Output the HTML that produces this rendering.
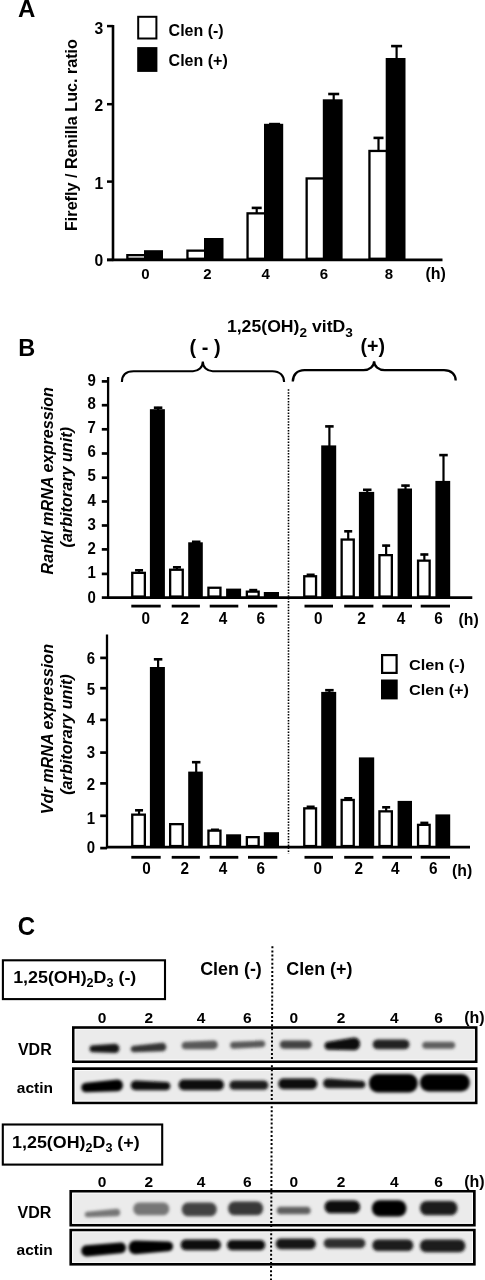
<!DOCTYPE html>
<html><head><meta charset="utf-8"><style>
html,body{margin:0;padding:0;background:#fff;}
body{width:485px;height:1280px;overflow:hidden;}
svg{display:block;font-family:"Liberation Sans", sans-serif;filter:grayscale(1);}
</style></head><body>
<svg width="485" height="1280" viewBox="0 0 485 1280">
<defs><filter id="bl" x="-20%" y="-100%" width="140%" height="300%"><feGaussianBlur stdDeviation="1.5"/></filter></defs>
<text transform="translate(17.90,17.10)" font-size="24" text-anchor="start" font-weight="bold" font-style="normal">A</text>
<line x1="113.00" y1="25.00" x2="113.00" y2="261.10" stroke="#000" stroke-width="2.6" />
<line x1="107.00" y1="259.90" x2="442.50" y2="259.90" stroke="#000" stroke-width="2.6" />
<line x1="107.00" y1="259.90" x2="113.00" y2="259.90" stroke="#000" stroke-width="2.5" />
<text transform="translate(103.20,266.00) scale(0.95,1)" font-size="16.5" text-anchor="end" font-weight="bold" font-style="normal">0</text>
<line x1="107.00" y1="181.60" x2="113.00" y2="181.60" stroke="#000" stroke-width="2.5" />
<text transform="translate(103.20,189.40) scale(0.95,1)" font-size="16.5" text-anchor="end" font-weight="bold" font-style="normal">1</text>
<line x1="107.00" y1="104.20" x2="113.00" y2="104.20" stroke="#000" stroke-width="2.5" />
<text transform="translate(103.20,110.80) scale(0.95,1)" font-size="16.5" text-anchor="end" font-weight="bold" font-style="normal">2</text>
<line x1="107.00" y1="26.10" x2="113.00" y2="26.10" stroke="#000" stroke-width="2.5" />
<text transform="translate(103.20,34.00) scale(0.95,1)" font-size="16.5" text-anchor="end" font-weight="bold" font-style="normal">3</text>
<rect x="127.35" y="255.15" width="18.00" height="3.60" fill="#fff" stroke="#000" stroke-width="2.3"/>
<rect x="144.00" y="250.20" width="19.00" height="9.70" fill="#000"/>
<rect x="187.45" y="250.65" width="17.90" height="8.10" fill="#fff" stroke="#000" stroke-width="2.3"/>
<rect x="204.00" y="238.00" width="19.50" height="21.90" fill="#000"/>
<line x1="256.70" y1="213.20" x2="256.70" y2="207.10" stroke="#000" stroke-width="2.2" />
<line x1="251.70" y1="207.90" x2="261.70" y2="207.90" stroke="#000" stroke-width="2.6" />
<line x1="274.60" y1="124.80" x2="274.60" y2="123.30" stroke="#000" stroke-width="2.2" />
<line x1="269.10" y1="124.10" x2="280.10" y2="124.10" stroke="#000" stroke-width="2.6" />
<rect x="247.55" y="213.35" width="17.80" height="45.40" fill="#fff" stroke="#000" stroke-width="2.3"/>
<rect x="264.00" y="123.80" width="19.20" height="136.10" fill="#000"/>
<line x1="333.70" y1="100.30" x2="333.70" y2="93.20" stroke="#000" stroke-width="2.2" />
<line x1="328.20" y1="94.00" x2="339.20" y2="94.00" stroke="#000" stroke-width="2.6" />
<rect x="306.65" y="178.45" width="17.50" height="80.30" fill="#fff" stroke="#000" stroke-width="2.3"/>
<rect x="322.80" y="99.30" width="19.80" height="160.60" fill="#000"/>
<line x1="378.50" y1="150.80" x2="378.50" y2="137.10" stroke="#000" stroke-width="2.2" />
<line x1="373.50" y1="137.90" x2="383.50" y2="137.90" stroke="#000" stroke-width="2.6" />
<line x1="396.60" y1="59.00" x2="396.60" y2="45.30" stroke="#000" stroke-width="2.2" />
<line x1="391.10" y1="46.10" x2="402.10" y2="46.10" stroke="#000" stroke-width="2.6" />
<rect x="369.45" y="150.95" width="17.60" height="107.80" fill="#fff" stroke="#000" stroke-width="2.3"/>
<rect x="385.70" y="58.00" width="19.80" height="201.90" fill="#000"/>
<text transform="translate(145.40,279.00)" font-size="15" text-anchor="middle" font-weight="bold" font-style="normal">0</text>
<text transform="translate(207.50,279.00)" font-size="15" text-anchor="middle" font-weight="bold" font-style="normal">2</text>
<text transform="translate(265.70,279.00)" font-size="15" text-anchor="middle" font-weight="bold" font-style="normal">4</text>
<text transform="translate(323.90,279.00)" font-size="15" text-anchor="middle" font-weight="bold" font-style="normal">6</text>
<text transform="translate(389.00,279.00)" font-size="15" text-anchor="middle" font-weight="bold" font-style="normal">8</text>
<text transform="translate(425.50,279.40)" font-size="16" text-anchor="start" font-weight="bold" font-style="normal">(h)</text>
<rect x="138.2" y="16.8" width="18.2" height="21.7" fill="#fff" stroke="#000" stroke-width="2"/>
<rect x="137.20" y="47.10" width="20.20" height="24.80" fill="#000"/>
<text transform="translate(168.60,36.10)" font-size="16" text-anchor="start" font-weight="bold" font-style="normal">Clen (-)</text>
<text transform="translate(168.60,66.00)" font-size="16" text-anchor="start" font-weight="bold" font-style="normal">Clen (+)</text>
<text transform="translate(76.60,231.00) rotate(-90)" font-size="16.15" text-anchor="start" font-weight="bold" font-style="normal">Firefly / Renilla Luc. ratio</text>
<text transform="translate(18.20,355.90)" font-size="23.5" text-anchor="start" font-weight="bold" font-style="normal">B</text>
<text transform="translate(226.9,332.3) scale(1.09,1)" font-size="16.2" font-weight="bold">1,25(OH)<tspan font-size="12.5" dy="4.3">2</tspan><tspan dy="-4.3"> vitD</tspan><tspan font-size="12.5" dy="4.3">3</tspan></text>
<text transform="translate(205.00,353.60) scale(1.02,1)" font-size="19.6" text-anchor="middle" font-weight="bold" font-style="normal">( - )</text>
<text transform="translate(372.80,353.40) scale(0.98,1)" font-size="20" text-anchor="middle" font-weight="bold" font-style="normal">(+)</text>
<path d="M121.9,382 C121.9,375.5 125.5,371.2 133.6,371.2 L193,371.2 C198.5,371.2 202.8,367.3 202.8,361.5 C202.8,367.3 207.2,371.2 212.7,371.2 L272.4,371.2 C280,371.2 284.1,375.8 284.1,382" fill="none" stroke="#000" stroke-width="2.1"/>
<path d="M292.8,381.5 C292.8,375 297,370.2 304.5,370.2 L363.5,370.2 C369.5,370.2 374.1,366.5 374.1,361.3 C374.1,366.5 378.7,370.2 384.7,370.2 L444,370.2 C451.5,370.2 455.7,374.5 455.7,380.5" fill="none" stroke="#000" stroke-width="2.3"/>
<line x1="288.50" y1="389.30" x2="288.50" y2="853.50" stroke="#000" stroke-width="1.6" stroke-dasharray="1.5 1.4"/>
<line x1="108.10" y1="377.00" x2="108.10" y2="598.70" stroke="#000" stroke-width="2.3" />
<line x1="107.10" y1="597.70" x2="472.30" y2="597.70" stroke="#000" stroke-width="2.7" />
<line x1="101.80" y1="597.60" x2="108.10" y2="597.60" stroke="#000" stroke-width="2.7" />
<text transform="translate(95.80,603.10) scale(0.92,1)" font-size="16.3" text-anchor="end" font-weight="bold" font-style="normal">0</text>
<line x1="101.80" y1="573.90" x2="108.10" y2="573.90" stroke="#000" stroke-width="2.7" />
<text transform="translate(95.80,578.00) scale(0.92,1)" font-size="16.3" text-anchor="end" font-weight="bold" font-style="normal">1</text>
<line x1="101.80" y1="549.40" x2="108.10" y2="549.40" stroke="#000" stroke-width="2.7" />
<text transform="translate(95.80,553.75) scale(0.92,1)" font-size="16.3" text-anchor="end" font-weight="bold" font-style="normal">2</text>
<line x1="101.80" y1="525.50" x2="108.10" y2="525.50" stroke="#000" stroke-width="2.7" />
<text transform="translate(95.80,529.60) scale(0.92,1)" font-size="16.3" text-anchor="end" font-weight="bold" font-style="normal">3</text>
<line x1="101.80" y1="501.50" x2="108.10" y2="501.50" stroke="#000" stroke-width="2.7" />
<text transform="translate(95.80,505.60) scale(0.92,1)" font-size="16.3" text-anchor="end" font-weight="bold" font-style="normal">4</text>
<line x1="101.80" y1="477.70" x2="108.10" y2="477.70" stroke="#000" stroke-width="2.7" />
<text transform="translate(95.80,481.35) scale(0.92,1)" font-size="16.3" text-anchor="end" font-weight="bold" font-style="normal">5</text>
<line x1="101.80" y1="453.50" x2="108.10" y2="453.50" stroke="#000" stroke-width="2.7" />
<text transform="translate(95.80,457.20) scale(0.92,1)" font-size="16.3" text-anchor="end" font-weight="bold" font-style="normal">6</text>
<line x1="101.80" y1="429.30" x2="108.10" y2="429.30" stroke="#000" stroke-width="2.7" />
<text transform="translate(95.80,433.00) scale(0.92,1)" font-size="16.3" text-anchor="end" font-weight="bold" font-style="normal">7</text>
<line x1="101.80" y1="405.20" x2="108.10" y2="405.20" stroke="#000" stroke-width="2.7" />
<text transform="translate(95.80,408.75) scale(0.92,1)" font-size="16.3" text-anchor="end" font-weight="bold" font-style="normal">8</text>
<line x1="101.80" y1="381.40" x2="108.10" y2="381.40" stroke="#000" stroke-width="2.7" />
<text transform="translate(95.80,385.90) scale(0.92,1)" font-size="16.3" text-anchor="end" font-weight="bold" font-style="normal">9</text>
<line x1="139.05" y1="572.70" x2="139.05" y2="569.50" stroke="#000" stroke-width="2.2" />
<line x1="135.05" y1="570.30" x2="143.05" y2="570.30" stroke="#000" stroke-width="2.6" />
<line x1="158.10" y1="410.20" x2="158.10" y2="406.90" stroke="#000" stroke-width="2.2" />
<line x1="153.85" y1="407.70" x2="162.35" y2="407.70" stroke="#000" stroke-width="2.6" />
<rect x="132.25" y="572.85" width="12.60" height="23.70" fill="#fff" stroke="#000" stroke-width="2.3"/>
<rect x="149.90" y="409.20" width="15.00" height="188.50" fill="#000"/>
<line x1="176.95" y1="569.60" x2="176.95" y2="566.50" stroke="#000" stroke-width="2.2" />
<line x1="172.95" y1="567.30" x2="180.95" y2="567.30" stroke="#000" stroke-width="2.6" />
<line x1="196.20" y1="543.30" x2="196.20" y2="541.00" stroke="#000" stroke-width="2.2" />
<line x1="191.95" y1="541.80" x2="200.45" y2="541.80" stroke="#000" stroke-width="2.6" />
<rect x="170.15" y="569.75" width="12.60" height="26.80" fill="#fff" stroke="#000" stroke-width="2.3"/>
<rect x="188.20" y="542.30" width="14.60" height="55.40" fill="#000"/>
<rect x="208.45" y="587.75" width="12.00" height="8.80" fill="#fff" stroke="#000" stroke-width="2.3"/>
<rect x="226.10" y="588.60" width="15.00" height="9.10" fill="#000"/>
<line x1="253.25" y1="591.50" x2="253.25" y2="589.30" stroke="#000" stroke-width="2.2" />
<line x1="249.25" y1="590.10" x2="257.25" y2="590.10" stroke="#000" stroke-width="2.6" />
<rect x="246.85" y="591.65" width="11.80" height="4.90" fill="#fff" stroke="#000" stroke-width="2.3"/>
<rect x="263.80" y="592.00" width="15.20" height="5.70" fill="#000"/>
<line x1="310.65" y1="576.10" x2="310.65" y2="574.00" stroke="#000" stroke-width="2.2" />
<line x1="306.65" y1="574.80" x2="314.65" y2="574.80" stroke="#000" stroke-width="2.6" />
<line x1="329.40" y1="446.40" x2="329.40" y2="425.60" stroke="#000" stroke-width="2.2" />
<line x1="325.15" y1="426.40" x2="333.65" y2="426.40" stroke="#000" stroke-width="2.6" />
<rect x="304.25" y="576.25" width="11.80" height="20.30" fill="#fff" stroke="#000" stroke-width="2.3"/>
<rect x="321.20" y="445.40" width="15.00" height="152.30" fill="#000"/>
<line x1="348.20" y1="539.40" x2="348.20" y2="530.50" stroke="#000" stroke-width="2.2" />
<line x1="344.20" y1="531.30" x2="352.20" y2="531.30" stroke="#000" stroke-width="2.6" />
<line x1="367.25" y1="492.90" x2="367.25" y2="489.00" stroke="#000" stroke-width="2.2" />
<line x1="363.00" y1="489.80" x2="371.50" y2="489.80" stroke="#000" stroke-width="2.6" />
<rect x="341.65" y="539.55" width="12.10" height="57.00" fill="#fff" stroke="#000" stroke-width="2.3"/>
<rect x="358.90" y="491.90" width="15.30" height="105.80" fill="#000"/>
<line x1="386.15" y1="555.00" x2="386.15" y2="544.80" stroke="#000" stroke-width="2.2" />
<line x1="382.15" y1="545.60" x2="390.15" y2="545.60" stroke="#000" stroke-width="2.6" />
<line x1="405.50" y1="489.50" x2="405.50" y2="484.80" stroke="#000" stroke-width="2.2" />
<line x1="401.25" y1="485.60" x2="409.75" y2="485.60" stroke="#000" stroke-width="2.6" />
<rect x="379.45" y="555.15" width="12.40" height="41.40" fill="#fff" stroke="#000" stroke-width="2.3"/>
<rect x="397.60" y="488.50" width="14.40" height="109.20" fill="#000"/>
<line x1="424.35" y1="560.50" x2="424.35" y2="553.70" stroke="#000" stroke-width="2.2" />
<line x1="420.35" y1="554.50" x2="428.35" y2="554.50" stroke="#000" stroke-width="2.6" />
<line x1="443.50" y1="481.90" x2="443.50" y2="454.30" stroke="#000" stroke-width="2.2" />
<line x1="439.25" y1="455.10" x2="447.75" y2="455.10" stroke="#000" stroke-width="2.6" />
<rect x="418.05" y="560.65" width="11.60" height="35.90" fill="#fff" stroke="#000" stroke-width="2.3"/>
<rect x="435.40" y="480.90" width="14.80" height="116.80" fill="#000"/>
<line x1="131.30" y1="606.10" x2="160.70" y2="606.10" stroke="#000" stroke-width="2.8" />
<line x1="171.70" y1="606.10" x2="199.90" y2="606.10" stroke="#000" stroke-width="2.8" />
<line x1="209.70" y1="606.10" x2="238.30" y2="606.10" stroke="#000" stroke-width="2.8" />
<line x1="248.00" y1="606.10" x2="277.30" y2="606.10" stroke="#000" stroke-width="2.8" />
<line x1="304.50" y1="606.10" x2="333.00" y2="606.10" stroke="#000" stroke-width="2.8" />
<line x1="344.20" y1="606.10" x2="373.40" y2="606.10" stroke="#000" stroke-width="2.8" />
<line x1="382.30" y1="606.10" x2="412.00" y2="606.10" stroke="#000" stroke-width="2.8" />
<line x1="420.70" y1="606.10" x2="450.00" y2="606.10" stroke="#000" stroke-width="2.8" />
<text transform="translate(145.80,623.80) scale(0.93,1)" font-size="16.5" text-anchor="middle" font-weight="bold" font-style="normal">0</text>
<text transform="translate(184.70,623.80) scale(0.93,1)" font-size="16.5" text-anchor="middle" font-weight="bold" font-style="normal">2</text>
<text transform="translate(222.90,623.80) scale(0.93,1)" font-size="16.5" text-anchor="middle" font-weight="bold" font-style="normal">4</text>
<text transform="translate(260.80,623.80) scale(0.93,1)" font-size="16.5" text-anchor="middle" font-weight="bold" font-style="normal">6</text>
<text transform="translate(318.20,623.80) scale(0.93,1)" font-size="16.5" text-anchor="middle" font-weight="bold" font-style="normal">0</text>
<text transform="translate(361.40,623.80) scale(0.93,1)" font-size="16.5" text-anchor="middle" font-weight="bold" font-style="normal">2</text>
<text transform="translate(400.90,623.80) scale(0.93,1)" font-size="16.5" text-anchor="middle" font-weight="bold" font-style="normal">4</text>
<text transform="translate(438.50,623.80) scale(0.93,1)" font-size="16.5" text-anchor="middle" font-weight="bold" font-style="normal">6</text>
<text transform="translate(458.60,624.60)" font-size="15.8" text-anchor="start" font-weight="bold" font-style="normal">(h)</text>
<text transform="translate(53.00,574.50) rotate(-90)" font-size="16.2" text-anchor="start" font-weight="bold" font-style="italic">Rankl mRNA expression</text>
<text transform="translate(71.90,547.50) rotate(-90)" font-size="16.2" text-anchor="start" font-weight="bold" font-style="italic">(arbitorary unit)</text>
<line x1="107.00" y1="634.50" x2="107.00" y2="848.20" stroke="#000" stroke-width="2.3" />
<line x1="106.00" y1="847.20" x2="470.00" y2="847.20" stroke="#000" stroke-width="2.7" />
<line x1="100.20" y1="848.10" x2="107.00" y2="848.10" stroke="#000" stroke-width="2.7" />
<text transform="translate(95.00,853.10) scale(0.92,1)" font-size="16.3" text-anchor="end" font-weight="bold" font-style="normal">0</text>
<line x1="100.20" y1="815.80" x2="107.00" y2="815.80" stroke="#000" stroke-width="2.7" />
<text transform="translate(95.00,823.55) scale(0.92,1)" font-size="16.3" text-anchor="end" font-weight="bold" font-style="normal">1</text>
<line x1="100.20" y1="783.40" x2="107.00" y2="783.40" stroke="#000" stroke-width="2.7" />
<text transform="translate(95.00,789.60) scale(0.92,1)" font-size="16.3" text-anchor="end" font-weight="bold" font-style="normal">2</text>
<line x1="100.20" y1="752.60" x2="107.00" y2="752.60" stroke="#000" stroke-width="2.7" />
<text transform="translate(95.00,758.15) scale(0.92,1)" font-size="16.3" text-anchor="end" font-weight="bold" font-style="normal">3</text>
<line x1="100.20" y1="719.90" x2="107.00" y2="719.90" stroke="#000" stroke-width="2.7" />
<text transform="translate(95.00,725.20) scale(0.92,1)" font-size="16.3" text-anchor="end" font-weight="bold" font-style="normal">4</text>
<line x1="100.20" y1="688.20" x2="107.00" y2="688.20" stroke="#000" stroke-width="2.7" />
<text transform="translate(95.00,695.20) scale(0.92,1)" font-size="16.3" text-anchor="end" font-weight="bold" font-style="normal">5</text>
<line x1="100.20" y1="657.90" x2="107.00" y2="657.90" stroke="#000" stroke-width="2.7" />
<text transform="translate(95.00,664.25) scale(0.92,1)" font-size="16.3" text-anchor="end" font-weight="bold" font-style="normal">6</text>
<line x1="139.05" y1="814.50" x2="139.05" y2="809.50" stroke="#000" stroke-width="2.2" />
<line x1="135.05" y1="810.30" x2="143.05" y2="810.30" stroke="#000" stroke-width="2.6" />
<line x1="158.10" y1="668.00" x2="158.10" y2="658.50" stroke="#000" stroke-width="2.2" />
<line x1="153.85" y1="659.30" x2="162.35" y2="659.30" stroke="#000" stroke-width="2.6" />
<rect x="132.25" y="814.65" width="12.60" height="31.40" fill="#fff" stroke="#000" stroke-width="2.3"/>
<rect x="149.90" y="667.00" width="15.00" height="180.20" fill="#000"/>
<line x1="196.20" y1="772.60" x2="196.20" y2="761.40" stroke="#000" stroke-width="2.2" />
<line x1="191.95" y1="762.20" x2="200.45" y2="762.20" stroke="#000" stroke-width="2.6" />
<rect x="170.15" y="824.15" width="12.60" height="21.90" fill="#fff" stroke="#000" stroke-width="2.3"/>
<rect x="188.20" y="771.60" width="14.60" height="75.60" fill="#000"/>
<line x1="214.95" y1="830.50" x2="214.95" y2="829.00" stroke="#000" stroke-width="2.2" />
<line x1="210.95" y1="829.80" x2="218.95" y2="829.80" stroke="#000" stroke-width="2.6" />
<rect x="208.45" y="830.65" width="12.00" height="15.40" fill="#fff" stroke="#000" stroke-width="2.3"/>
<rect x="226.10" y="834.30" width="15.00" height="12.90" fill="#000"/>
<rect x="246.85" y="837.15" width="11.80" height="8.90" fill="#fff" stroke="#000" stroke-width="2.3"/>
<rect x="263.80" y="832.20" width="15.20" height="15.00" fill="#000"/>
<line x1="310.65" y1="808.20" x2="310.65" y2="806.00" stroke="#000" stroke-width="2.2" />
<line x1="306.65" y1="806.80" x2="314.65" y2="806.80" stroke="#000" stroke-width="2.6" />
<line x1="329.40" y1="692.90" x2="329.40" y2="689.40" stroke="#000" stroke-width="2.2" />
<line x1="325.15" y1="690.20" x2="333.65" y2="690.20" stroke="#000" stroke-width="2.6" />
<rect x="304.25" y="808.35" width="11.80" height="37.70" fill="#fff" stroke="#000" stroke-width="2.3"/>
<rect x="321.20" y="691.90" width="15.00" height="155.30" fill="#000"/>
<line x1="348.20" y1="799.80" x2="348.20" y2="797.50" stroke="#000" stroke-width="2.2" />
<line x1="344.20" y1="798.30" x2="352.20" y2="798.30" stroke="#000" stroke-width="2.6" />
<rect x="341.65" y="799.95" width="12.10" height="46.10" fill="#fff" stroke="#000" stroke-width="2.3"/>
<rect x="358.90" y="757.40" width="15.30" height="89.80" fill="#000"/>
<line x1="386.15" y1="811.20" x2="386.15" y2="806.50" stroke="#000" stroke-width="2.2" />
<line x1="382.15" y1="807.30" x2="390.15" y2="807.30" stroke="#000" stroke-width="2.6" />
<rect x="379.45" y="811.35" width="12.40" height="34.70" fill="#fff" stroke="#000" stroke-width="2.3"/>
<rect x="397.60" y="800.90" width="14.40" height="46.30" fill="#000"/>
<line x1="424.35" y1="824.70" x2="424.35" y2="822.10" stroke="#000" stroke-width="2.2" />
<line x1="420.35" y1="822.90" x2="428.35" y2="822.90" stroke="#000" stroke-width="2.6" />
<rect x="418.05" y="824.85" width="11.60" height="21.20" fill="#fff" stroke="#000" stroke-width="2.3"/>
<rect x="435.40" y="814.40" width="14.80" height="32.80" fill="#000"/>
<line x1="131.30" y1="857.30" x2="160.70" y2="857.30" stroke="#000" stroke-width="2.8" />
<line x1="171.70" y1="857.30" x2="199.90" y2="857.30" stroke="#000" stroke-width="2.8" />
<line x1="209.70" y1="857.30" x2="238.30" y2="857.30" stroke="#000" stroke-width="2.8" />
<line x1="248.00" y1="857.30" x2="277.30" y2="857.30" stroke="#000" stroke-width="2.8" />
<line x1="304.50" y1="857.30" x2="333.00" y2="857.30" stroke="#000" stroke-width="2.8" />
<line x1="344.20" y1="857.30" x2="373.40" y2="857.30" stroke="#000" stroke-width="2.8" />
<line x1="382.30" y1="857.30" x2="412.00" y2="857.30" stroke="#000" stroke-width="2.8" />
<line x1="420.70" y1="857.30" x2="450.00" y2="857.30" stroke="#000" stroke-width="2.8" />
<text transform="translate(146.60,874.00) scale(0.93,1)" font-size="16.5" text-anchor="middle" font-weight="bold" font-style="normal">0</text>
<text transform="translate(184.80,874.00) scale(0.93,1)" font-size="16.5" text-anchor="middle" font-weight="bold" font-style="normal">2</text>
<text transform="translate(223.00,874.00) scale(0.93,1)" font-size="16.5" text-anchor="middle" font-weight="bold" font-style="normal">4</text>
<text transform="translate(260.80,874.00) scale(0.93,1)" font-size="16.5" text-anchor="middle" font-weight="bold" font-style="normal">6</text>
<text transform="translate(317.70,874.00) scale(0.93,1)" font-size="16.5" text-anchor="middle" font-weight="bold" font-style="normal">0</text>
<text transform="translate(358.70,874.00) scale(0.93,1)" font-size="16.5" text-anchor="middle" font-weight="bold" font-style="normal">2</text>
<text transform="translate(395.20,874.00) scale(0.93,1)" font-size="16.5" text-anchor="middle" font-weight="bold" font-style="normal">4</text>
<text transform="translate(433.30,874.00) scale(0.93,1)" font-size="16.5" text-anchor="middle" font-weight="bold" font-style="normal">6</text>
<text transform="translate(452.00,876.40)" font-size="15.8" text-anchor="start" font-weight="bold" font-style="normal">(h)</text>
<text transform="translate(53.00,814.30) rotate(-90)" font-size="16.2" text-anchor="start" font-weight="bold" font-style="italic">Vdr mRNA expression</text>
<text transform="translate(71.90,794.80) rotate(-90)" font-size="16.2" text-anchor="start" font-weight="bold" font-style="italic">(arbitorary unit)</text>
<rect x="382.1" y="655.1" width="14.5" height="17.8" fill="#fff" stroke="#000" stroke-width="2.2"/>
<rect x="381.00" y="679.50" width="16.70" height="19.90" fill="#000"/>
<text transform="translate(408.90,670.00) scale(1.05,1)" font-size="15.5" text-anchor="start" font-weight="bold" font-style="normal">Clen (-)</text>
<text transform="translate(408.90,695.20) scale(1.05,1)" font-size="15.5" text-anchor="start" font-weight="bold" font-style="normal">Clen (+)</text>
<text transform="translate(17.80,935.20) scale(0.96,1)" font-size="25" text-anchor="start" font-weight="bold" font-style="normal">C</text>
<rect x="2.9" y="960.3" width="162.1" height="38.8" fill="#fff" stroke="#000" stroke-width="2.1"/>
<text transform="translate(13.2,983.0) scale(1.05,1)" font-size="17" font-weight="bold">1,25(OH)<tspan font-size="12" dy="4.2">2</tspan><tspan dy="-4.2">D</tspan><tspan font-size="12" dy="4.2">3</tspan><tspan dy="-4.2"> (-)</tspan></text>
<rect x="2.8" y="1124.5" width="159.4" height="40.1" fill="#fff" stroke="#000" stroke-width="2.1"/>
<text transform="translate(12.1,1147.8) scale(1.05,1)" font-size="17" font-weight="bold">1,25(OH)<tspan font-size="12" dy="4.2">2</tspan><tspan dy="-4.2">D</tspan><tspan font-size="12" dy="4.2">3</tspan><tspan dy="-4.2"> (+)</tspan></text>
<text transform="translate(200.20,974.70)" font-size="17.9" text-anchor="start" font-weight="bold" font-style="normal">Clen (-)</text>
<text transform="translate(286.30,974.70)" font-size="17.9" text-anchor="start" font-weight="bold" font-style="normal">Clen (+)</text>
<text transform="translate(102.00,1022.80)" font-size="15.5" text-anchor="middle" font-weight="bold" font-style="normal">0</text>
<text transform="translate(102.00,1186.60)" font-size="15.5" text-anchor="middle" font-weight="bold" font-style="normal">0</text>
<text transform="translate(148.70,1022.80)" font-size="15.5" text-anchor="middle" font-weight="bold" font-style="normal">2</text>
<text transform="translate(148.70,1186.60)" font-size="15.5" text-anchor="middle" font-weight="bold" font-style="normal">2</text>
<text transform="translate(201.00,1022.80)" font-size="15.5" text-anchor="middle" font-weight="bold" font-style="normal">4</text>
<text transform="translate(201.00,1186.60)" font-size="15.5" text-anchor="middle" font-weight="bold" font-style="normal">4</text>
<text transform="translate(247.40,1022.80)" font-size="15.5" text-anchor="middle" font-weight="bold" font-style="normal">6</text>
<text transform="translate(247.40,1186.60)" font-size="15.5" text-anchor="middle" font-weight="bold" font-style="normal">6</text>
<text transform="translate(293.80,1022.80)" font-size="15.5" text-anchor="middle" font-weight="bold" font-style="normal">0</text>
<text transform="translate(293.80,1186.60)" font-size="15.5" text-anchor="middle" font-weight="bold" font-style="normal">0</text>
<text transform="translate(341.00,1022.80)" font-size="15.5" text-anchor="middle" font-weight="bold" font-style="normal">2</text>
<text transform="translate(341.00,1186.60)" font-size="15.5" text-anchor="middle" font-weight="bold" font-style="normal">2</text>
<text transform="translate(394.20,1022.80)" font-size="15.5" text-anchor="middle" font-weight="bold" font-style="normal">4</text>
<text transform="translate(394.20,1186.60)" font-size="15.5" text-anchor="middle" font-weight="bold" font-style="normal">4</text>
<text transform="translate(438.50,1022.80)" font-size="15.5" text-anchor="middle" font-weight="bold" font-style="normal">6</text>
<text transform="translate(438.50,1186.60)" font-size="15.5" text-anchor="middle" font-weight="bold" font-style="normal">6</text>
<text transform="translate(464.20,1022.80)" font-size="16" text-anchor="start" font-weight="bold" font-style="normal">(h)</text>
<text transform="translate(464.20,1186.60)" font-size="16" text-anchor="start" font-weight="bold" font-style="normal">(h)</text>
<text transform="translate(17.90,1054.70)" font-size="16" text-anchor="start" font-weight="bold" font-style="normal">VDR</text>
<text transform="translate(16.80,1092.90)" font-size="15.5" text-anchor="start" font-weight="bold" font-style="normal">actin</text>
<text transform="translate(17.50,1218.20)" font-size="16" text-anchor="start" font-weight="bold" font-style="normal">VDR</text>
<text transform="translate(16.60,1255.40)" font-size="15.5" text-anchor="start" font-weight="bold" font-style="normal">actin</text>
<rect x="73.35" y="1027.55" width="402.80" height="34.10" fill="#ebebeb" stroke="#000" stroke-width="2.7"/>
<rect x="75.20" y="1029.40" width="399.10" height="30.40" fill="none" stroke="#fafafa" stroke-width="1"/>
<g filter="url(#bl)">
<path d="M92.90,1045.30 L114.95,1043.70 C120.99,1043.70 120.99,1053.00 114.95,1053.00 L92.90,1052.30 C88.35,1052.30 88.35,1045.30 92.90,1045.30 Z" fill="rgb(23,23,23)"/>
<path d="M133.95,1045.80 L162.10,1042.70 C167.69,1042.70 167.69,1051.30 162.10,1051.30 L133.95,1052.30 C129.73,1052.30 129.73,1045.80 133.95,1045.80 Z" fill="rgb(52,52,52)"/>
<path d="M185.40,1041.70 L213.55,1040.60 C219.21,1040.60 219.21,1049.30 213.55,1049.30 L185.40,1049.30 C180.46,1049.30 180.46,1041.70 185.40,1041.70 Z" fill="rgb(89,89,89)"/>
<path d="M233.55,1041.70 L262.00,1040.60 C266.29,1040.60 266.29,1047.20 262.00,1047.20 L233.55,1048.80 C228.94,1048.80 228.94,1041.70 233.55,1041.70 Z" fill="rgb(89,89,89)"/>
<path d="M283.80,1040.60 L307.80,1040.60 C313.13,1040.60 313.13,1048.80 307.80,1048.80 L283.80,1048.80 C278.47,1048.80 278.47,1040.60 283.80,1040.60 Z" fill="rgb(66,66,66)"/>
<path d="M328.40,1041.70 L353.90,1037.50 C362.22,1037.50 362.22,1050.30 353.90,1050.30 L328.40,1049.70 C323.20,1049.70 323.20,1041.70 328.40,1041.70 Z" fill="rgb(7,7,7)"/>
<path d="M377.45,1039.60 L404.75,1039.60 C411.06,1039.60 411.06,1049.30 404.75,1049.30 L377.45,1049.30 C371.14,1049.30 371.14,1039.60 377.45,1039.60 Z" fill="rgb(35,35,35)"/>
<path d="M425.65,1041.70 L451.75,1041.70 C456.37,1041.70 456.37,1048.80 451.75,1048.80 L425.65,1048.80 C421.03,1048.80 421.03,1041.70 425.65,1041.70 Z" fill="rgb(94,94,94)"/>
</g>
<rect x="73.35" y="1068.65" width="402.80" height="34.20" fill="#ebebeb" stroke="#000" stroke-width="2.7"/>
<rect x="75.20" y="1070.50" width="399.10" height="30.50" fill="none" stroke="#fafafa" stroke-width="1"/>
<g filter="url(#bl)">
<path d="M86.00,1082.70 L117.25,1079.60 C124.86,1079.60 124.86,1091.30 117.25,1091.30 L86.00,1092.30 C79.76,1092.30 79.76,1082.70 86.00,1082.70 Z" fill="rgb(0,0,0)"/>
<path d="M135.55,1080.60 L166.40,1082.10 C171.73,1082.10 171.73,1090.30 166.40,1090.30 L135.55,1090.30 C129.25,1090.30 129.25,1080.60 135.55,1080.60 Z" fill="rgb(12,12,12)"/>
<path d="M183.85,1079.60 L218.75,1079.60 C225.71,1079.60 225.71,1090.30 218.75,1090.30 L183.85,1090.30 C176.89,1090.30 176.89,1079.60 183.85,1079.60 Z" fill="rgb(16,16,16)"/>
<path d="M233.95,1080.60 L263.85,1080.60 C269.77,1080.60 269.77,1089.70 263.85,1089.70 L233.95,1089.70 C228.03,1089.70 228.03,1080.60 233.95,1080.60 Z" fill="rgb(31,31,31)"/>
<path d="M283.55,1078.60 L312.05,1078.60 C319.01,1078.60 319.01,1089.30 312.05,1089.30 L283.55,1089.30 C276.59,1089.30 276.59,1078.60 283.55,1078.60 Z" fill="rgb(12,12,12)"/>
<path d="M327.85,1078.60 L361.70,1080.70 C366.64,1080.70 366.64,1088.30 361.70,1088.30 L327.85,1088.30 C321.55,1088.30 321.55,1078.60 327.85,1078.60 Z" fill="rgb(19,19,19)"/>
<path d="M378.00,1074.10 L408.70,1074.10 C420.66,1074.10 420.66,1092.50 408.70,1092.50 L378.00,1092.50 C366.04,1092.50 366.04,1074.10 378.00,1074.10 Z" fill="rgb(0,0,0)"/>
<path d="M428.45,1074.10 L461.35,1074.10 C472.60,1074.10 472.60,1091.40 461.35,1091.40 L428.45,1091.40 C417.20,1091.40 417.20,1074.10 428.45,1074.10 Z" fill="rgb(0,0,0)"/>
</g>
<rect x="70.75" y="1191.35" width="403.60" height="33.80" fill="#ebebeb" stroke="#000" stroke-width="2.7"/>
<rect x="72.60" y="1193.20" width="399.90" height="30.10" fill="none" stroke="#fafafa" stroke-width="1"/>
<g filter="url(#bl)">
<path d="M87.45,1211.80 L116.60,1208.70 C121.54,1208.70 121.54,1216.30 116.60,1216.30 L87.45,1217.30 C83.88,1217.30 83.88,1211.80 87.45,1211.80 Z" fill="rgb(118,118,118)"/>
<path d="M139.50,1202.50 L163.00,1202.50 C171.32,1202.50 171.32,1215.30 163.00,1215.30 L139.50,1215.30 C131.18,1215.30 131.18,1202.50 139.50,1202.50 Z" fill="rgb(118,118,118)"/>
<path d="M188.50,1202.50 L210.00,1202.50 C218.97,1202.50 218.97,1216.30 210.00,1216.30 L188.50,1216.30 C179.53,1216.30 179.53,1202.50 188.50,1202.50 Z" fill="rgb(66,66,66)"/>
<path d="M234.90,1201.50 L256.40,1201.50 C265.37,1201.50 265.37,1215.30 256.40,1215.30 L234.90,1215.30 C225.93,1215.30 225.93,1201.50 234.90,1201.50 Z" fill="rgb(56,56,56)"/>
<path d="M280.40,1206.70 L307.00,1206.70 C311.94,1206.70 311.94,1214.30 307.00,1214.30 L280.40,1214.30 C275.46,1214.30 275.46,1206.70 280.40,1206.70 Z" fill="rgb(94,94,94)"/>
<path d="M330.80,1200.50 L353.90,1200.50 C362.22,1200.50 362.22,1213.30 353.90,1213.30 L330.80,1213.30 C322.48,1213.30 322.48,1200.50 330.80,1200.50 Z" fill="rgb(7,7,7)"/>
<path d="M379.80,1200.20 L398.50,1200.20 C409.03,1200.20 409.03,1216.40 398.50,1216.40 L379.80,1216.40 C369.27,1216.40 369.27,1200.20 379.80,1200.20 Z" fill="rgb(0,0,0)"/>
<path d="M426.95,1200.90 L450.45,1200.90 C459.75,1200.90 459.75,1215.20 450.45,1215.20 L426.95,1215.20 C417.65,1215.20 417.65,1200.90 426.95,1200.90 Z" fill="rgb(28,28,28)"/>
</g>
<rect x="70.75" y="1230.15" width="403.60" height="34.10" fill="#ebebeb" stroke="#000" stroke-width="2.7"/>
<rect x="72.60" y="1232.00" width="399.90" height="30.40" fill="none" stroke="#fafafa" stroke-width="1"/>
<g filter="url(#bl)">
<path d="M86.75,1245.30 L120.75,1242.60 C127.70,1242.60 127.70,1253.30 120.75,1253.30 L86.75,1256.40 C79.53,1256.40 79.53,1245.30 86.75,1245.30 Z" fill="rgb(0,0,0)"/>
<path d="M135.45,1240.60 L168.35,1241.60 C174.66,1241.60 174.66,1251.30 168.35,1251.30 L135.45,1254.30 C126.54,1254.30 126.54,1240.60 135.45,1240.60 Z" fill="rgb(0,0,0)"/>
<path d="M185.95,1239.50 L215.65,1239.50 C222.61,1239.50 222.61,1250.20 215.65,1250.20 L185.95,1250.20 C178.99,1250.20 178.99,1239.50 185.95,1239.50 Z" fill="rgb(7,7,7)"/>
<path d="M232.00,1240.00 L260.20,1240.00 C266.83,1240.00 266.83,1250.20 260.20,1250.20 L232.00,1250.20 C225.37,1250.20 225.37,1240.00 232.00,1240.00 Z" fill="rgb(12,12,12)"/>
<path d="M280.95,1238.60 L310.65,1238.60 C317.61,1238.60 317.61,1249.30 310.65,1249.30 L280.95,1249.30 C273.99,1249.30 273.99,1238.60 280.95,1238.60 Z" fill="rgb(19,19,19)"/>
<path d="M328.40,1238.60 L360.70,1238.60 C366.94,1238.60 366.94,1248.20 360.70,1248.20 L328.40,1248.20 C322.16,1248.20 322.16,1238.60 328.40,1238.60 Z" fill="rgb(47,47,47)"/>
<path d="M378.00,1239.50 L407.60,1239.50 C415.14,1239.50 415.14,1251.10 407.60,1251.10 L378.00,1251.10 C370.46,1251.10 370.46,1239.50 378.00,1239.50 Z" fill="rgb(28,28,28)"/>
<path d="M426.15,1239.50 L459.15,1239.50 C467.41,1239.50 467.41,1252.20 459.15,1252.20 L426.15,1252.20 C417.89,1252.20 417.89,1239.50 426.15,1239.50 Z" fill="rgb(28,28,28)"/>
</g>
<line x1="272.40" y1="946.30" x2="271.00" y2="1280.00" stroke="#000" stroke-width="2" stroke-dasharray="2 2.1"/>
</svg>
</body></html>
